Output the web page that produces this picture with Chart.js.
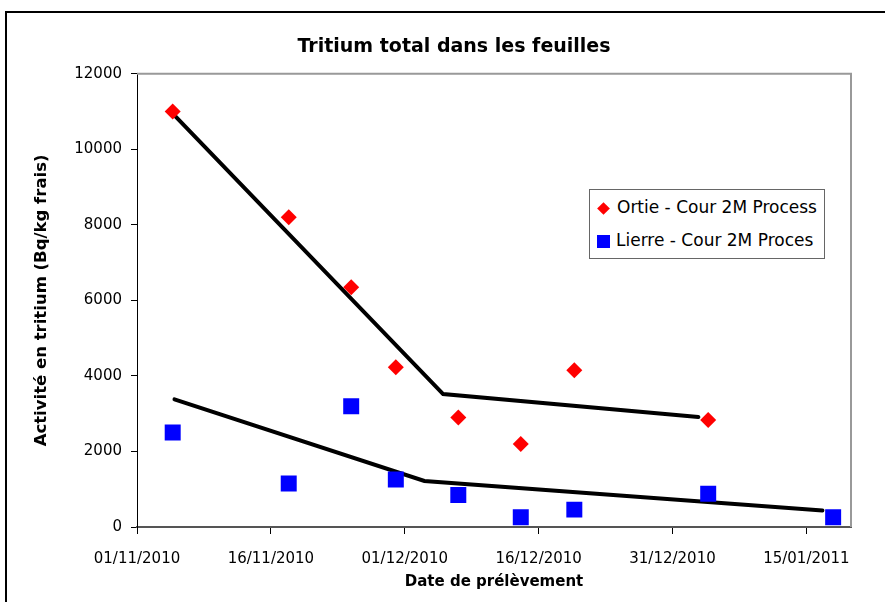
<!DOCTYPE html>
<html>
<head>
<meta charset="utf-8">
<script src="https://cdn.jsdelivr.net/npm/chart.js"></script>
<style>
  html, body { margin: 0; padding: 0; background: #fff; overflow: hidden; }
  #wrap { position: relative; width: 885px; height: 602px; }
  #frame { position: absolute; left: 5px; top: 11px; width: 900px; height: 620px; border-left: 2px solid #000; border-top: 2px solid #000; box-sizing: border-box; pointer-events: none; }
  #legend { position: absolute; left: 589px; top: 189px; width: 236px; height: 70px; border: 1px solid #666; box-sizing: border-box; background: #fff;
            font-family: "DejaVu Sans", sans-serif; font-size: 17px; color: #000; }
  #legend .row { position: absolute; left: 7px; height: 20px; line-height: 20px; white-space: nowrap; }
  #legend .sw { display: inline-block; vertical-align: middle; margin-right: 6px; }
  #legend .dia { width: 9px; height: 9px; background: #ff0000; transform: rotate(45deg); margin-left: 2px; margin-right: 9px; }
  #legend .sq { width: 13px; height: 13px; background: #0000ff; }
  canvas { position: absolute; left: 0; top: 0; }
</style>
</head>
<body>
<div id="wrap">
  <canvas id="tritiumChart" width="885" height="602"></canvas>
  <div id="frame"></div>
  <div id="legend">
    <div class="row" style="top: 7px;"><span class="sw dia"></span>Ortie - Cour 2M Process</div>
    <div class="row" style="top: 40px;"><span class="sw sq"></span>Lierre - Cour 2M Proces</div>
  </div>
</div>
<script>
// jours comptés depuis le 01/11/2010
const startDate = new Date(2010, 10, 1);
const tickLabels = ['01/11/2010', '16/11/2010', '01/12/2010', '16/12/2010', '31/12/2010', '15/01/2011'];

const ortieDates = ['05/11/2010', '18/11/2010', '25/11/2010', '30/11/2010', '07/12/2010', '14/12/2010', '20/12/2010', '04/01/2011'];
const ortieValues = [11000, 8200, 6350, 4230, 2900, 2200, 4150, 2830];

const lierreDates = ['05/11/2010', '18/11/2010', '25/11/2010', '30/11/2010', '07/12/2010', '14/12/2010', '20/12/2010', '04/01/2011', '18/01/2011'];
const lierreValues = [2500, 1150, 3200, 1260, 850, 260, 460, 880, 260];

// tendances (jour, valeur)
const ortieTrendDays = [4.2, 34.3, 62.9];
const ortieTrendValues = [10900, 3520, 2910];
const lierreTrendDays = [4.2, 32.2, 76.8];
const lierreTrendValues = [3380, 1220, 440];

function dayOf(str) {
    const p = str.split('/');
    const d = new Date(+p[2], +p[1] - 1, +p[0]);
    return Math.round((d - startDate) / 86400000);
}
function toPoints(xs, ys) {
    return xs.map(function (x, i) { return { x: x, y: ys[i] }; });
}

// cadre gris haut/droite de la zone de tracé
const plotFrame = {
    id: 'plotFrame',
    afterDraw(chart) {
        const a = chart.chartArea, c = chart.ctx;
        c.save();
        c.strokeStyle = '#999';
        c.lineWidth = 2;
        c.beginPath();
        c.moveTo(a.left, a.top);
        c.lineTo(a.right, a.top);
        c.lineTo(a.right, a.bottom);
        c.stroke();
        c.restore();
    }
};

const ctx = document.getElementById('tritiumChart');
new Chart(ctx, {
    type: 'scatter',
    data: {
        datasets: [
            {
                label: 'Tendance Ortie',
                type: 'line',
                data: toPoints(ortieTrendDays, ortieTrendValues),
                borderColor: '#000',
                borderWidth: 4,
                pointRadius: 0,
                tension: 0,
                borderCapStyle: 'round',
                order: 2
            },
            {
                label: 'Tendance Lierre',
                type: 'line',
                data: toPoints(lierreTrendDays, lierreTrendValues),
                borderColor: '#000',
                borderWidth: 4,
                pointRadius: 0,
                tension: 0,
                borderCapStyle: 'round',
                order: 2
            },
            {
                label: 'Ortie - Cour 2M Process',
                data: toPoints(ortieDates.map(dayOf), ortieValues),
                pointStyle: 'rectRot',
                pointRadius: 8,
                backgroundColor: '#ff0000',
                borderColor: '#ff0000',
                borderWidth: 0,
                order: 1
            },
            {
                label: 'Lierre - Cour 2M Proces',
                data: toPoints(lierreDates.map(dayOf), lierreValues),
                pointStyle: 'rect',
                pointRadius: 11.3,
                backgroundColor: '#0000ff',
                borderColor: '#0000ff',
                borderWidth: 0,
                order: 1
            }
        ]
    },
    options: {
        responsive: false,
        animation: false,
        layout: { padding: { left: 23, right: 0, top: 0, bottom: 6 } },
        plugins: {
            legend: { display: false },
            tooltip: { enabled: false },
            title: {
                display: true,
                text: 'Tritium total dans les feuilles',
                color: '#000',
                font: { family: 'DejaVu Sans', size: 19, weight: 'bold' },
                padding: { top: 36, bottom: 15 }
            }
        },
        scales: {
            x: {
                type: 'linear',
                min: 0,
                max: 80,
                afterBuildTicks: function (scale) {
                    scale.ticks = tickLabels.map(function (t, i) { return { value: i * 15 }; });
                },
                ticks: {
                    callback: function (v) { return tickLabels[Math.round(v / 15)]; },
                    color: '#000',
                    font: { family: 'DejaVu Sans', size: 15 },
                    padding: 16,
                    maxRotation: 0,
                    autoSkip: false
                },
                grid: { drawOnChartArea: false, tickLength: 7, color: '#000', lineWidth: 1 },
                border: { color: '#555', width: 2 },
                title: {
                    display: true,
                    text: 'Date de prélèvement',
                    color: '#000',
                    font: { family: 'DejaVu Sans', size: 15, weight: 'bold' },
                    padding: { top: 4, bottom: 5 }
                },
                afterFit: function (scale) { scale.height = 69; }
            },
            y: {
                min: 0,
                max: 12000,
                ticks: {
                    stepSize: 2000,
                    callback: function (v) { return String(v); },
                    color: '#000',
                    font: { family: 'DejaVu Sans', size: 15 },
                    padding: 9
                },
                grid: { drawOnChartArea: false, tickLength: 6, color: '#000', lineWidth: 1 },
                border: { color: '#000', width: 1 },
                title: {
                    display: true,
                    text: 'Activité en tritium (Bq/kg frais)',
                    color: '#000',
                    font: { family: 'DejaVu Sans', size: 16.5, weight: 'bold' },
                    padding: { top: 9, bottom: 4 }
                },
                afterFit: function (scale) { scale.width = 114; }
            },
            // axe vide pour réserver la marge de droite
            yRight: {
                position: 'right',
                display: true,
                grid: { display: false },
                ticks: { display: false },
                border: { display: false },
                afterFit: function (scale) { scale.width = 34; }
            }
        }
    },
    plugins: [plotFrame]
});
</script>
</body>
</html>
